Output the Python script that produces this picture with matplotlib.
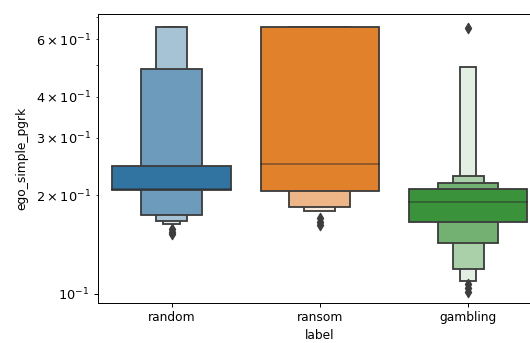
import colorsys

import matplotlib
matplotlib.use("Agg")
import matplotlib.pyplot as plt
import matplotlib.colors as mcolors
import numpy as np

# letter-value boxes per class: lower / upper edge of each level, innermost first
categories = ["random", "ransom", "gambling"]

random_lo = [0.207, 0.174, 0.1674, 0.1635]
random_hi = [0.245, 0.485, 0.654, 0.654]
random_median = 0.209
random_outliers = [0.158, 0.155, 0.152]

ransom_lo = [0.206, 0.184, 0.1792]
ransom_hi = [0.654, 0.654, 0.654]
ransom_median = 0.249
ransom_outliers = [0.170, 0.166, 0.162]

gambling_lo = [0.166, 0.1428, 0.119, 0.1096]
gambling_hi = [0.2096, 0.2186, 0.2296, 0.494]
gambling_median = 0.1905
gambling_outliers = [0.647, 0.107, 0.104, 0.101]

lows = [random_lo, ransom_lo, gambling_lo]
highs = [random_hi, ransom_hi, gambling_hi]
medians = [random_median, ransom_median, gambling_median]
outliers = [random_outliers, ransom_outliers, gambling_outliers]

level_widths = [0.8, 0.41, 0.21, 0.11]
base_colors = ["#1f77b4", "#ff7f0e", "#2ca02c"]


def desaturate(color, prop):
    h, l, s = colorsys.rgb_to_hls(*mcolors.to_rgb(color))
    return colorsys.hls_to_rgb(h, l, s * prop)


colors = [desaturate(c, 0.75) for c in base_colors]
lum = min(colorsys.rgb_to_hls(*c)[1] for c in colors) * 0.6
edge_gray = (lum, lum, lum)

fig = plt.figure(figsize=(530 / 88, 343 / 88), dpi=88)
ax = fig.add_axes([0.184, 0.117, 0.839, 0.842])

for i, (lo, hi, color) in enumerate(zip(lows, highs, colors)):
    k = len(lo)
    base = np.array(color)
    # narrowest (outermost) level first so the widest ends up on top
    for j in reversed(range(k)):
        t = 0.85 * j / (k - 1)
        fill = base + t * (1 - base)
        ax.bar(i, hi[j] - lo[j], bottom=lo[j], width=level_widths[j],
               color=fill, edgecolor=edge_gray, linewidth=1.5, zorder=2)
    w = level_widths[0]
    ax.plot([i - w / 2, i + w / 2], [medians[i], medians[i]],
            c=".15", alpha=0.45, linewidth=1.5, zorder=3)
    ax.scatter(np.repeat(i, len(outliers[i])), outliers[i], marker="d",
               c=[edge_gray], zorder=3)

ax.set_yscale("log")
ax.set_ylim(0.0939, 0.715)
ax.set_xlim(-0.5, 2.5)
ax.set_xticks(range(len(categories)))
ax.set_xticklabels(categories)
ax.tick_params(axis="y", which="both", labelsize=10.5)
ax.set_xlabel("label")
ax.set_ylabel("ego_simple_pgrk", labelpad=6)

fig.savefig("out.png", dpi=88)
